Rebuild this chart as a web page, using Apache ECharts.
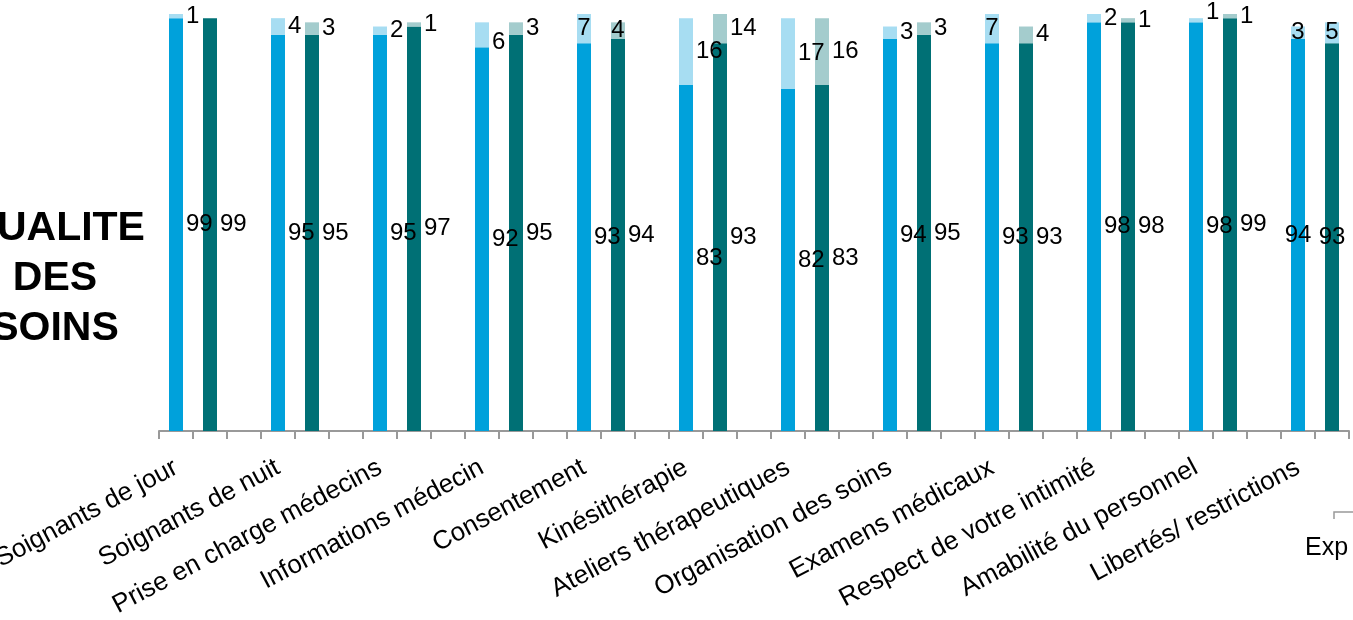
<!DOCTYPE html>
<html><head><meta charset="utf-8">
<script src="https://cdn.jsdelivr.net/npm/echarts@6/dist/echarts.min.js"></script>
<style>html,body{margin:0;padding:0;background:#fff}#c{width:1353px;height:620px}</style>
</head><body><div id="c"></div>
<script>
const categories = ['Soignants de jour', 'Soignants de nuit', 'Prise en charge médecins', 'Informations médecin', 'Consentement', 'Kinésithérapie', 'Ateliers thérapeutiques', 'Organisation des soins', 'Examens médicaux', 'Respect de votre intimité', 'Amabilité du personnel', 'Libertés/ restrictions'];
const blueMain = [99, 95, 95, 92, 93, 83, 82, 94, 93, 98, 98, 94];
const blueRest = [1, 4, 2, 6, 7, 16, 17, 3, 7, 2, 1, 3];
const tealMain = [99, 95, 97, 95, 94, 93, 83, 95, 93, 98, 99, 93];
const tealRest = [0, 3, 1, 3, 4, 14, 16, 3, 4, 1, 1, 5];
const titleText = 'QUALITE\nDES\nSOINS';
const cutLegendText = 'Exp';

// style config (not data)
const C = { blue: '#00a1db', blueLight: '#a7ddf2', teal: '#007075', tealLight: '#a4cccd' };
const insideLabels = { blueMain: [11], blueRest: [4, 8, 11], tealMain: [11], tealRest: [4, 11] };
const labelNudge = { blueRest: { 3: [0, 8], 10: [0, -8] } };
const colorOverride = { tealRest: { 11: C.blueLight } };

const SLOTS = categories.length * 3 - 1;
const slotLabels = [];
for (let i = 0; i < SLOTS; i++) slotLabels.push(i % 3 === 0 ? categories[i / 3] : '');

function buildData(values, pos, key) {
  const out = [];
  for (let i = 0; i < SLOTS; i++) {
    const g = Math.floor(i / 3);
    if (i % 3 === pos) {
      const item = { value: values[g] };
      if ((insideLabels[key] || []).includes(g)) item.label = { position: 'inside', distance: 0 };
      const nudge = labelNudge[key] && labelNudge[key][g];
      if (nudge) item.label = Object.assign(item.label || {}, { offset: nudge });
      const co = colorOverride[key];
      if (co && co[g]) item.itemStyle = { color: co[g] };
      out.push(item);
    } else out.push('-');
  }
  return out;
}
const labelBase = {
  show: true, position: 'right', distance: 3, color: '#000',
  fontFamily: 'Liberation Sans, Arial, sans-serif', fontSize: 24,
  formatter: p => (p.value ? String(p.value) : '')
};
function mk(name, values, pos, key, stack, color) {
  return { name, type: 'bar', stack, barWidth: 14, barGap: '-100%', clip: true,
    itemStyle: { color }, label: labelBase, data: buildData(values, pos, key) };
}
const chart = echarts.init(document.getElementById('c'), null, { renderer: 'canvas' });
chart.setOption({
  animation: false,
  grid: { left: 159, right: 4, top: 14, bottom: 189, containLabel: false, outerBoundsMode: 'none' },
  xAxis: {
    type: 'category', data: slotLabels,
    axisLine: { lineStyle: { color: '#999', width: 2 } },
    axisTick: { show: true, interval: 0, length: 8, lineStyle: { color: '#999', width: 2 } },
    axisLabel: { interval: 0, rotate: 28, margin: 35, color: '#000', fontSize: 26,
      fontFamily: 'Liberation Sans, Arial, sans-serif' }
  },
  yAxis: { type: 'value', min: 0, max: 100, show: false },
  series: [
    mk('blueMain', blueMain, 0, 'blueMain', 'b', C.blue),
    mk('blueRest', blueRest, 0, 'blueRest', 'b', C.blueLight),
    mk('tealMain', tealMain, 1, 'tealMain', 't', C.teal),
    mk('tealRest', tealRest, 1, 'tealRest', 't', C.tealLight)
  ],
  graphic: [
    { type: 'text', x: 55, y: 279, style: { text: titleText, textAlign: 'center', textVerticalAlign: 'middle',
      font: 'bold 41px "Liberation Sans", Arial, sans-serif', lineHeight: 50, fill: '#000' } },
    { type: 'polyline', shape: { points: [[1334, 519], [1334, 512], [1353, 512]] }, style: { stroke: '#999', lineWidth: 1.5, fill: null } },
    { type: 'text', x: 1305, y: 548, style: { text: cutLegendText, textVerticalAlign: 'middle',
      font: '25px "Liberation Sans", Arial, sans-serif', fill: '#000' } }
  ]
});
</script></body></html>
